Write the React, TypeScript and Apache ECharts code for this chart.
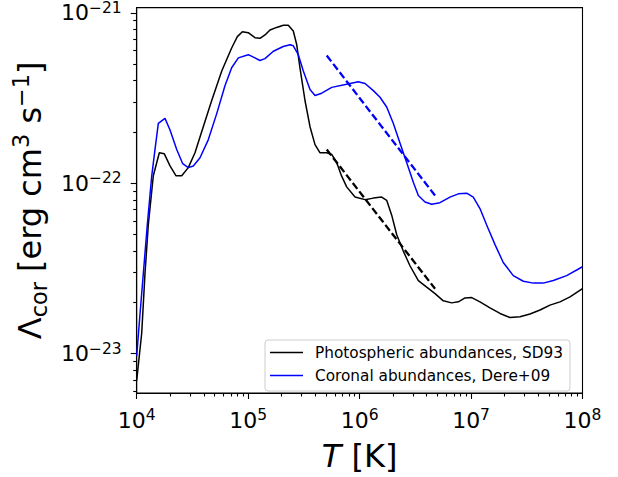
import { useEffect, useRef } from "react";
import * as echarts from "echarts";

// log10(T [K]) and log10(Lambda [erg cm^3 s^-1])
const logTPhoto = [4.0, 4.045, 4.074, 4.104, 4.149, 4.203, 4.248, 4.299, 4.353, 4.404, 4.463, 4.523, 4.583, 4.673, 4.763, 4.852, 4.903, 4.948, 5.001, 5.061, 5.106, 5.151, 5.196, 5.256, 5.315, 5.36, 5.405, 5.436, 5.465, 5.51, 5.555, 5.6, 5.645, 5.705, 5.75, 5.795, 5.839, 5.884, 5.959, 6.049, 6.123, 6.198, 6.243, 6.288, 6.333, 6.392, 6.452, 6.527, 6.602, 6.677, 6.751, 6.826, 6.886, 6.946, 7.006, 7.08, 7.17, 7.26, 7.349, 7.439, 7.529, 7.619, 7.708, 7.798, 7.888, 8.0];
const logLPhoto = [-23.157, -22.879, -22.533, -22.245, -21.956, -21.821, -21.827, -21.898, -21.956, -21.956, -21.908, -21.821, -21.697, -21.514, -21.341, -21.206, -21.139, -21.11, -21.116, -21.145, -21.149, -21.129, -21.1, -21.085, -21.072, -21.072, -21.106, -21.187, -21.322, -21.514, -21.668, -21.773, -21.821, -21.821, -21.831, -21.879, -21.958, -22.021, -22.081, -22.096, -22.087, -22.081, -22.1, -22.187, -22.302, -22.398, -22.484, -22.571, -22.61, -22.648, -22.69, -22.702, -22.696, -22.673, -22.671, -22.696, -22.731, -22.764, -22.788, -22.783, -22.767, -22.744, -22.715, -22.696, -22.667, -22.619];

const logTCor = [4.0, 4.03, 4.059, 4.095, 4.135, 4.164, 4.194, 4.254, 4.299, 4.359, 4.413, 4.463, 4.508, 4.568, 4.642, 4.718, 4.792, 4.852, 4.912, 5.001, 5.061, 5.106, 5.151, 5.226, 5.315, 5.376, 5.405, 5.45, 5.495, 5.555, 5.6, 5.66, 5.75, 5.884, 5.988, 6.049, 6.123, 6.183, 6.243, 6.302, 6.362, 6.423, 6.482, 6.527, 6.587, 6.647, 6.721, 6.811, 6.886, 6.961, 7.02, 7.08, 7.14, 7.215, 7.289, 7.379, 7.469, 7.559, 7.648, 7.738, 7.858, 8.0];
const logLCor = [-23.013, -22.764, -22.533, -22.245, -21.956, -21.802, -21.648, -21.619, -21.687, -21.802, -21.885, -21.908, -21.898, -21.85, -21.745, -21.591, -21.427, -21.322, -21.264, -21.245, -21.264, -21.279, -21.268, -21.225, -21.197, -21.187, -21.193, -21.245, -21.341, -21.45, -21.485, -21.471, -21.437, -21.418, -21.404, -21.414, -21.456, -21.495, -21.552, -21.648, -21.764, -21.879, -21.994, -22.072, -22.11, -22.123, -22.114, -22.081, -22.062, -22.058, -22.081, -22.148, -22.245, -22.36, -22.465, -22.542, -22.575, -22.586, -22.586, -22.571, -22.542, -22.49];

const logTFit = [5.705, 6.677];
const logLFitPhoto = [-21.802, -22.619];
const logLFitCor = [-21.25, -22.072];

const xRange = [4, 8];
const yRange = [-23.231, -20.969];
const xMajorTicks = [4, 5, 6, 7, 8];
const yMajorTicks = [-23, -22, -21];
const legendNames = ["Photospheric abundances, SD93", "Coronal abundances, Dere+09"];

const FONT = "DejaVu Sans";

function minorTicks(lo: number, hi: number): number[] {
  const out: number[] = [];
  for (let n = Math.floor(lo) - 1; n <= Math.ceil(hi); n++) {
    for (let k = 2; k <= 9; k++) {
      const v = n + Math.log10(k);
      if (v >= lo - 1e-9 && v <= hi + 1e-9) out.push(v);
    }
  }
  return out;
}

function zip(a: number[], b: number[]) {
  return a.map((v, i) => [v, b[i]]);
}

const tickRich = {
  b: { fontSize: 22, lineHeight: 26, fontFamily: FONT, color: "#000" },
  s: { fontSize: 15.5, lineHeight: 14, verticalAlign: "top", fontFamily: FONT, color: "#000" },
};

function powLabel(v: number) {
  const e = Math.round(v);
  const txt = e < 0 ? "\u2212" + String(-e) : String(e);
  return `{b|10}{s|${txt}}`;
}

export default function App() {
  const ref = useRef<HTMLDivElement>(null);
  useEffect(() => {
    if (!ref.current) return;
    const chart = echarts.init(ref.current, null, { renderer: "svg" });
    const tickLine = { color: "#000", width: 1.1 };
    const option: any = {
      animation: false,
      backgroundColor: "#fff",
      grid: {
        left: 136.7,
        right: 618 - 582.5,
        top: 5.5,
        bottom: 477 - 397.7,
        show: true,
        borderColor: "#000",
        borderWidth: 1.1,
        backgroundColor: "transparent",
      },
      legend: {
        data: legendNames,
        orient: "vertical",
        left: 265,
        top: 340,
        icon: "rect",
        itemWidth: 33,
        itemHeight: 1.5,
        itemGap: 6,
        padding: [4, 7, 7, 5],
        backgroundColor: "rgba(255,255,255,0.8)",
        borderColor: "#cccccc",
        borderWidth: 1,
        borderRadius: 3,
        textStyle: { fontSize: 15.3, lineHeight: 17, fontFamily: FONT, color: "#000", padding: [0, 0, 0, 7] },
      },
      xAxis: [
        {
          type: "value",
          min: xRange[0],
          max: xRange[1],
          interval: 1,
          position: "bottom",
          axisLine: { show: true, lineStyle: tickLine },
          axisTick: { show: true, length: 6, lineStyle: tickLine, customValues: xMajorTicks },
          axisLabel: { margin: 14, formatter: powLabel, rich: tickRich, customValues: xMajorTicks },
          splitLine: { show: false },
          name: "{i|T}{n| [K]}",
          nameLocation: "middle",
          nameGap: 45,
          nameTextStyle: {
            rich: {
              i: { fontSize: 32, lineHeight: 36, fontStyle: "italic", fontFamily: FONT, color: "#000" },
              n: { fontSize: 32, lineHeight: 36, fontFamily: FONT, color: "#000" },
            },
          },
        },
        {
          type: "value",
          min: xRange[0],
          max: xRange[1],
          position: "bottom",
          axisLine: { show: false },
          axisTick: { show: true, length: 3.5, lineStyle: tickLine, customValues: minorTicks(xRange[0], xRange[1]) },
          axisLabel: { show: false },
          splitLine: { show: false },
        },
      ],
      yAxis: [
        {
          type: "value",
          min: yRange[0],
          max: yRange[1],
          position: "left",
          axisLine: { show: true, lineStyle: tickLine },
          axisTick: { show: true, length: 6, lineStyle: tickLine, customValues: yMajorTicks },
          axisLabel: { margin: 15, formatter: powLabel, rich: tickRich, customValues: yMajorTicks },
          splitLine: { show: false },
          name: "{l|\u039B}{sub|cor}{l| [erg cm}{sup|3}{l| s}{sup|\u22121}{l|]}",
          nameLocation: "middle",
          nameRotate: 90,
          nameGap: 85,
          nameTextStyle: {
            rich: {
              l: { fontSize: 32, lineHeight: 40, fontFamily: FONT, color: "#000" },
              sub: { fontSize: 22.4, lineHeight: 28, verticalAlign: "bottom", fontFamily: FONT, color: "#000" },
              sup: { fontSize: 22.4, lineHeight: 18, verticalAlign: "top", fontFamily: FONT, color: "#000" },
            },
          },
        },
        {
          type: "value",
          min: yRange[0],
          max: yRange[1],
          position: "left",
          offset: 0,
          axisLine: { show: false },
          axisTick: { show: true, length: 3.5, lineStyle: tickLine, customValues: minorTicks(yRange[0], yRange[1]) },
          axisLabel: { show: false },
          splitLine: { show: false },
        },
      ],
      series: [
        {
          name: legendNames[0],
          type: "line",
          data: zip(logTPhoto, logLPhoto),
          color: "#000000",
          showSymbol: false,
          symbol: "none",
          lineStyle: { color: "#000000", width: 1.5 },
          z: 3,
        },
        {
          name: legendNames[1],
          type: "line",
          data: zip(logTCor, logLCor),
          color: "#0000ff",
          showSymbol: false,
          symbol: "none",
          lineStyle: { color: "#0000ff", width: 1.5 },
          z: 3,
        },
        {
          name: "fitPhoto",
          type: "line",
          data: zip(logTFit, logLFitPhoto),
          showSymbol: false,
          symbol: "none",
          lineStyle: { color: "#000000", width: 2.3, type: [7.4, 3.2] },
          z: 4,
        },
        {
          name: "fitCor",
          type: "line",
          data: zip(logTFit, logLFitCor),
          showSymbol: false,
          symbol: "none",
          lineStyle: { color: "#0000ff", width: 2.3, type: [7.4, 3.2] },
          z: 4,
        },
      ],
    };
    chart.setOption(option);
    return () => chart.dispose();
  }, []);
  return (
    <div
      ref={ref}
      style={{ position: "fixed", left: 0, top: 0, width: 618, height: 477, background: "#fff" }}
    />
  );
}
